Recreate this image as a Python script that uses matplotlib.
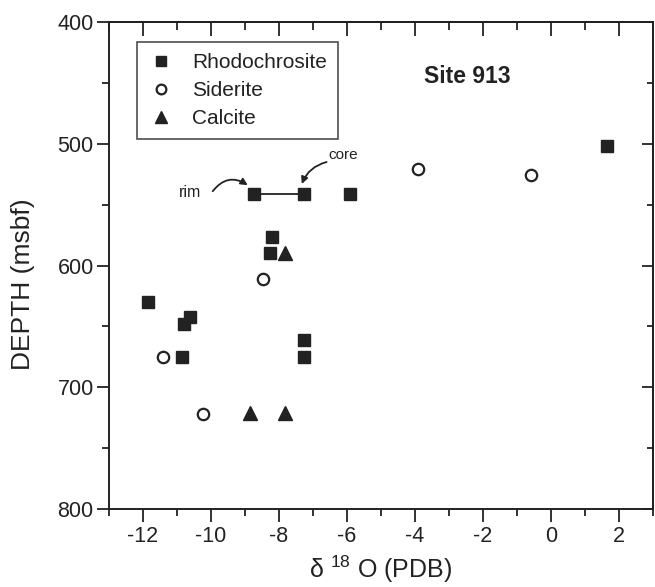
import matplotlib
matplotlib.use("Agg")
import matplotlib.pyplot as plt
from matplotlib.ticker import MultipleLocator

plt.rcParams['font.family'] = ['Liberation Sans', 'DejaVu Sans']
plt.rcParams['mathtext.fontset'] = 'custom'
plt.rcParams['mathtext.rm'] = 'Liberation Sans'
plt.rcParams['mathtext.it'] = 'Liberation Sans:italic'
plt.rcParams['axes.unicode_minus'] = False

# delta 18O (PDB) and depth (msbf) for each mineral
rhodo_d18o = [1.65, -8.73, -7.27, -5.90, -8.22, -8.26, -11.86, -10.62, -10.79, -10.86, -7.26, -7.26]
rhodo_depth = [502, 541, 541, 541, 577, 590, 630, 642, 648, 675, 661, 675]

sider_d18o = [-3.92, -0.60, -8.48, -11.42, -10.24]
sider_depth = [521, 526, 611, 675, 722]

calc_d18o = [-7.81, -8.85, -7.81]
calc_depth = [590, 721, 721]

# rim-to-core tie line on one rhodochrosite crystal
tie_d18o = [-8.73, -7.27]
tie_depth = [541, 541]

fig = plt.figure(figsize=(6.55, 5.87), dpi=100)
ax = fig.add_axes([0.1664, 0.1329, 0.8306, 0.8296])

ink = '#222222'
ax.plot(tie_d18o, tie_depth, color=ink, lw=1.3, zorder=2)
ax.plot(rhodo_d18o, rhodo_depth, ls='none', marker='s', ms=8.8, mfc=ink, mec=ink,
        label='Rhodochrosite', zorder=3)
ax.plot(sider_d18o, sider_depth, ls='none', marker='o', ms=8.2, mfc='white', mec=ink,
        mew=1.6, label='Siderite', zorder=3)
ax.plot(calc_d18o, calc_depth, ls='none', marker='^', ms=10, mfc=ink, mec=ink,
        label='Calcite', zorder=3)

ax.set_xlim(-13, 3)
ax.set_ylim(800, 400)

ax.xaxis.set_major_locator(MultipleLocator(2))
ax.xaxis.set_minor_locator(MultipleLocator(1))
ax.yaxis.set_major_locator(MultipleLocator(100))
ax.yaxis.set_minor_locator(MultipleLocator(50))

ax.tick_params(which='both', direction='out', width=1.3, colors=ink, labelsize=15.5,
               top=False, right=False)
ax.tick_params(which='major', length=9)
ax.tick_params(which='minor', length=5)
ax.tick_params(axis='x', pad=3)
ax.tick_params(axis='y', pad=2)

for sp in ax.spines.values():
    sp.set_linewidth(1.4)
    sp.set_color(ink)

# inward ticks on the top and right frame
top = ax.secondary_xaxis('top')
top.xaxis.set_major_locator(MultipleLocator(2))
top.xaxis.set_minor_locator(MultipleLocator(1))
top.tick_params(which='both', direction='in', width=1.3, colors=ink, labeltop=False)
top.tick_params(which='major', length=10)
top.tick_params(which='minor', length=6)
top.spines['top'].set_linewidth(1.4)

right = ax.secondary_yaxis('right')
right.yaxis.set_major_locator(MultipleLocator(100))
right.yaxis.set_minor_locator(MultipleLocator(50))
right.tick_params(which='both', direction='in', width=1.3, colors=ink, labelright=False)
right.tick_params(which='major', length=8)
right.tick_params(which='minor', length=4)
right.spines['right'].set_linewidth(1.4)

ax.set_xlabel('δ $^{18}$ O (PDB)', fontsize=18, color=ink, labelpad=5)
ax.set_ylabel('DEPTH (msbf)', fontsize=19, color=ink)
ax.yaxis.set_label_coords(-0.136, 0.461)

leg = ax.legend(loc='upper left', bbox_to_anchor=(0.051, 0.959), borderaxespad=0,
                frameon=True, fancybox=False, edgecolor=ink, fontsize=15,
                handletextpad=0.9, labelspacing=0.42, borderpad=0.55,
                handlelength=1.2, markerscale=0.85)
leg.get_frame().set_linewidth(1.2)
for t in leg.get_texts():
    t.set_color(ink)

ax.text(-3.75, 445, 'Site 913', fontsize=16.5, fontweight='bold', color=ink,
        ha='left', va='center')

# rim / core labels with curved arrows
ax.text(-10.62, 540, 'rim', fontsize=11.5, color=ink, ha='center', va='center')
ax.annotate('', xy=(-8.92, 534), xytext=(-9.95, 539),
            arrowprops=dict(arrowstyle='-|>', color=ink, lw=1.3,
                            connectionstyle='arc3,rad=-0.45', mutation_scale=10,
                            shrinkA=0, shrinkB=0))
ax.text(-6.12, 509, 'core', fontsize=11, color=ink, ha='center', va='center')
ax.annotate('', xy=(-7.33, 533), xytext=(-6.6, 515),
            arrowprops=dict(arrowstyle='-|>', color=ink, lw=1.3,
                            connectionstyle='arc3,rad=0.25', mutation_scale=10,
                            shrinkA=0, shrinkB=0))

fig.savefig('out.png', dpi=100)
